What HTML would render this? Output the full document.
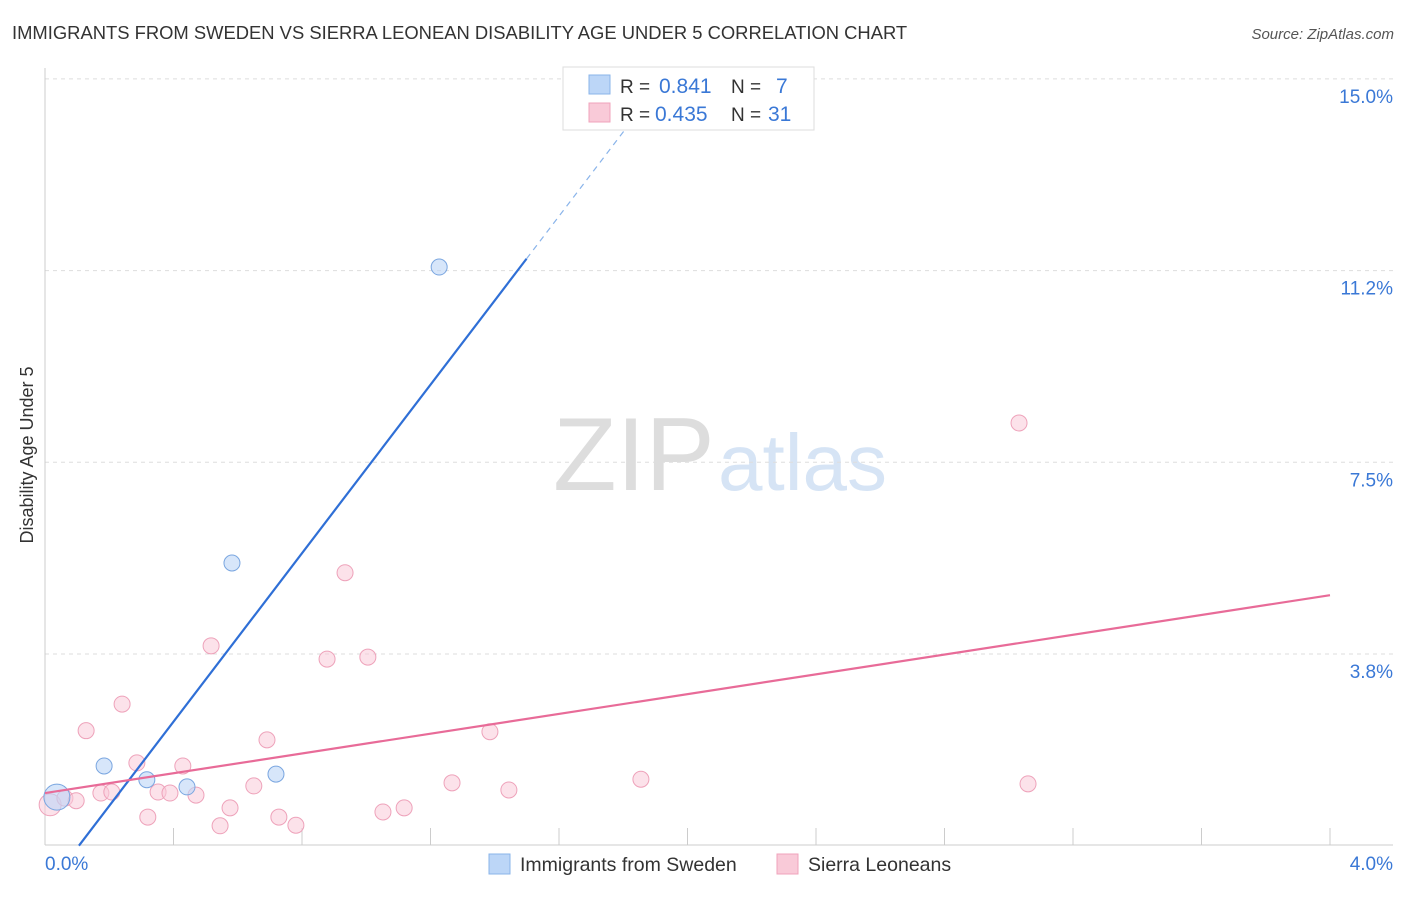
<!DOCTYPE html>
<html><head><meta charset="utf-8"><style>
body{margin:0;background:#fff;font-family:"Liberation Sans",sans-serif;}
svg text{font-family:"Liberation Sans",sans-serif;}
</style></head><body>
<svg id="chart" width="1406" height="892" viewBox="0 0 1406 892" xmlns="http://www.w3.org/2000/svg">
<text x="12" y="39" font-size="18.4" fill="#333">IMMIGRANTS FROM SWEDEN VS SIERRA LEONEAN DISABILITY AGE UNDER 5 CORRELATION CHART</text>
<text x="1394" y="39" font-size="15" fill="#555" font-style="italic" text-anchor="end">Source: ZipAtlas.com</text>
<text transform="translate(33,455) rotate(-90)" font-size="18" fill="#333" text-anchor="middle">Disability Age Under 5</text>
<text x="553" y="490" font-size="104" fill="#ddd" font-family="Liberation Serif">ZIP</text>
<text x="718" y="490" font-size="80" fill="#d6e4f5">atlas</text>
<g id="grid"></g>
<g id="marks"></g>
<g>
<rect x="563" y="67" width="251" height="63" fill="#fff" stroke="#ddd"/>
<rect x="589" y="75" width="21" height="19" fill="#bcd6f7" stroke="#8ab4ea"/>
<rect x="589" y="103" width="21" height="19" fill="#f9cad8" stroke="#f0a3bb"/>
<text x="620" y="93" font-size="19" fill="#333">R = </text><text x="659" y="93" font-size="21" fill="#3a78d6">0.841</text>
<text x="731" y="93" font-size="19" fill="#333">N = </text><text x="776" y="93" font-size="21" fill="#3a78d6">7</text>
<text x="620" y="121" font-size="19" fill="#333">R = </text><text x="655" y="121" font-size="21" fill="#3a78d6">0.435</text>
<text x="731" y="121" font-size="19" fill="#333">N = </text><text x="768" y="121" font-size="21" fill="#3a78d6">31</text>
</g>
<g>
<rect x="489" y="854" width="21" height="20" fill="#bcd6f7" stroke="#8ab4ea"/>
<text x="520" y="871" font-size="19.5" fill="#333">Immigrants from Sweden</text>
<rect x="777" y="854" width="21" height="20" fill="#f9cad8" stroke="#f0a3bb"/>
<text x="808" y="871" font-size="19.5" fill="#333">Sierra Leoneans</text>
</g>
</svg>
<script>
const xTicks=[0,0.4,0.8,1.2,1.6,2.0,2.4,2.8,3.2,3.6,4.0];
const yTicks=[3.75,7.5,11.25,15.0];
const yTickLabels=["3.8%","7.5%","11.2%","15.0%"];
const xTickLabels=["0.0%","4.0%"];
const swedenX=[0.037,0.184,0.317,0.442,0.582,0.719,1.227];
const swedenY=[0.95,1.56,1.29,1.15,5.53,1.40,11.32];
const sierraX=[0.016,0.062,0.097,0.128,0.174,0.208,0.240,0.286,0.320,0.352,0.389,0.429,0.470,0.517,0.545,0.576,0.650,0.691,0.728,0.781,0.878,0.934,1.005,1.052,1.118,1.267,1.385,1.444,1.855,3.032,3.060];
const sierraY=[0.80,0.93,0.88,2.25,1.03,1.05,2.77,1.62,0.56,1.05,1.03,1.56,0.99,3.91,0.39,0.74,1.17,2.07,0.56,0.40,3.65,5.34,3.69,0.66,0.74,1.23,2.23,1.09,1.30,8.27,1.21];
const swedenTrend=[-0.87,8.24]; // intercept, slope
const sierraTrend=[1.03,0.9675];
const X=v=>45+v*321.25, Y=v=>845.7-v*51.12;
const NS="http://www.w3.org/2000/svg";
function mk(t,a,p){const e=document.createElementNS(NS,t);for(const k in a)e.setAttribute(k,a[k]);p.appendChild(e);return e;}
const g=document.getElementById('grid'), m=document.getElementById('marks');
yTicks.forEach((v,i)=>{
 const l=mk('line',{x1:45,x2:1393,y1:Y(v),y2:Y(v),stroke:'#ddd','stroke-dasharray':'4,4'},g);
 
 
 const t=mk('text',{x:1393,y:Y(v)+24,'font-size':19,fill:'#3a78d6','text-anchor':'end'},g);
 t.textContent=yTickLabels[i];
 
 
});
mk('line',{x1:45,x2:45,y1:68,y2:845,stroke:'#ccc'},g);
mk('line',{x1:45,x2:1393,y1:845,y2:845,stroke:'#ccc'},g);
xTicks.forEach(v=>{
 const l=mk('line',{x1:X(v),x2:X(v),y1:828,y2:845,stroke:'#ccc'},g);
 
 
});
[[0,45,'start'],[4,1393,'end']].forEach((a,i)=>{
 const t=mk('text',{x:a[1],y:870,'font-size':19,fill:'#3a78d6','text-anchor':a[2]},g);
 t.textContent=xTickLabels[i];
 
 
});
sierraX.forEach((x,i)=>{
 const c=mk('circle',{cx:X(x),cy:Y(sierraY[i]),r:i==0?11:8,fill:'#f9cad8','fill-opacity':0.55,stroke:'#eea2ba'},m);
 
 
});
swedenX.forEach((x,i)=>{
 const c=mk('circle',{cx:X(x),cy:Y(swedenY[i]),r:i==0?13:8,fill:'#bcd6f7','fill-opacity':0.6,stroke:'#7aa6e0'},m);
 
 
});
const x0=-swedenTrend[0]/swedenTrend[1], x1=1.499, x2=(15.2-swedenTrend[0])/swedenTrend[1];
const bl=mk('line',{x1:X(x0),y1:Y(0),x2:X(x1),y2:Y(swedenTrend[0]+swedenTrend[1]*x1),stroke:'#2f6fd6','stroke-width':2.2},m);


const bd=mk('line',{x1:X(x1),y1:Y(swedenTrend[0]+swedenTrend[1]*x1),x2:X(x2),y2:Y(15.2),stroke:'#8ab4ea','stroke-width':1.2,'stroke-dasharray':'6,5'},m);


const pl=mk('line',{x1:X(0),y1:Y(sierraTrend[0]),x2:X(4),y2:Y(sierraTrend[0]+sierraTrend[1]*4),stroke:'#e86b98','stroke-width':2.2},m);


</script>
</body></html>
